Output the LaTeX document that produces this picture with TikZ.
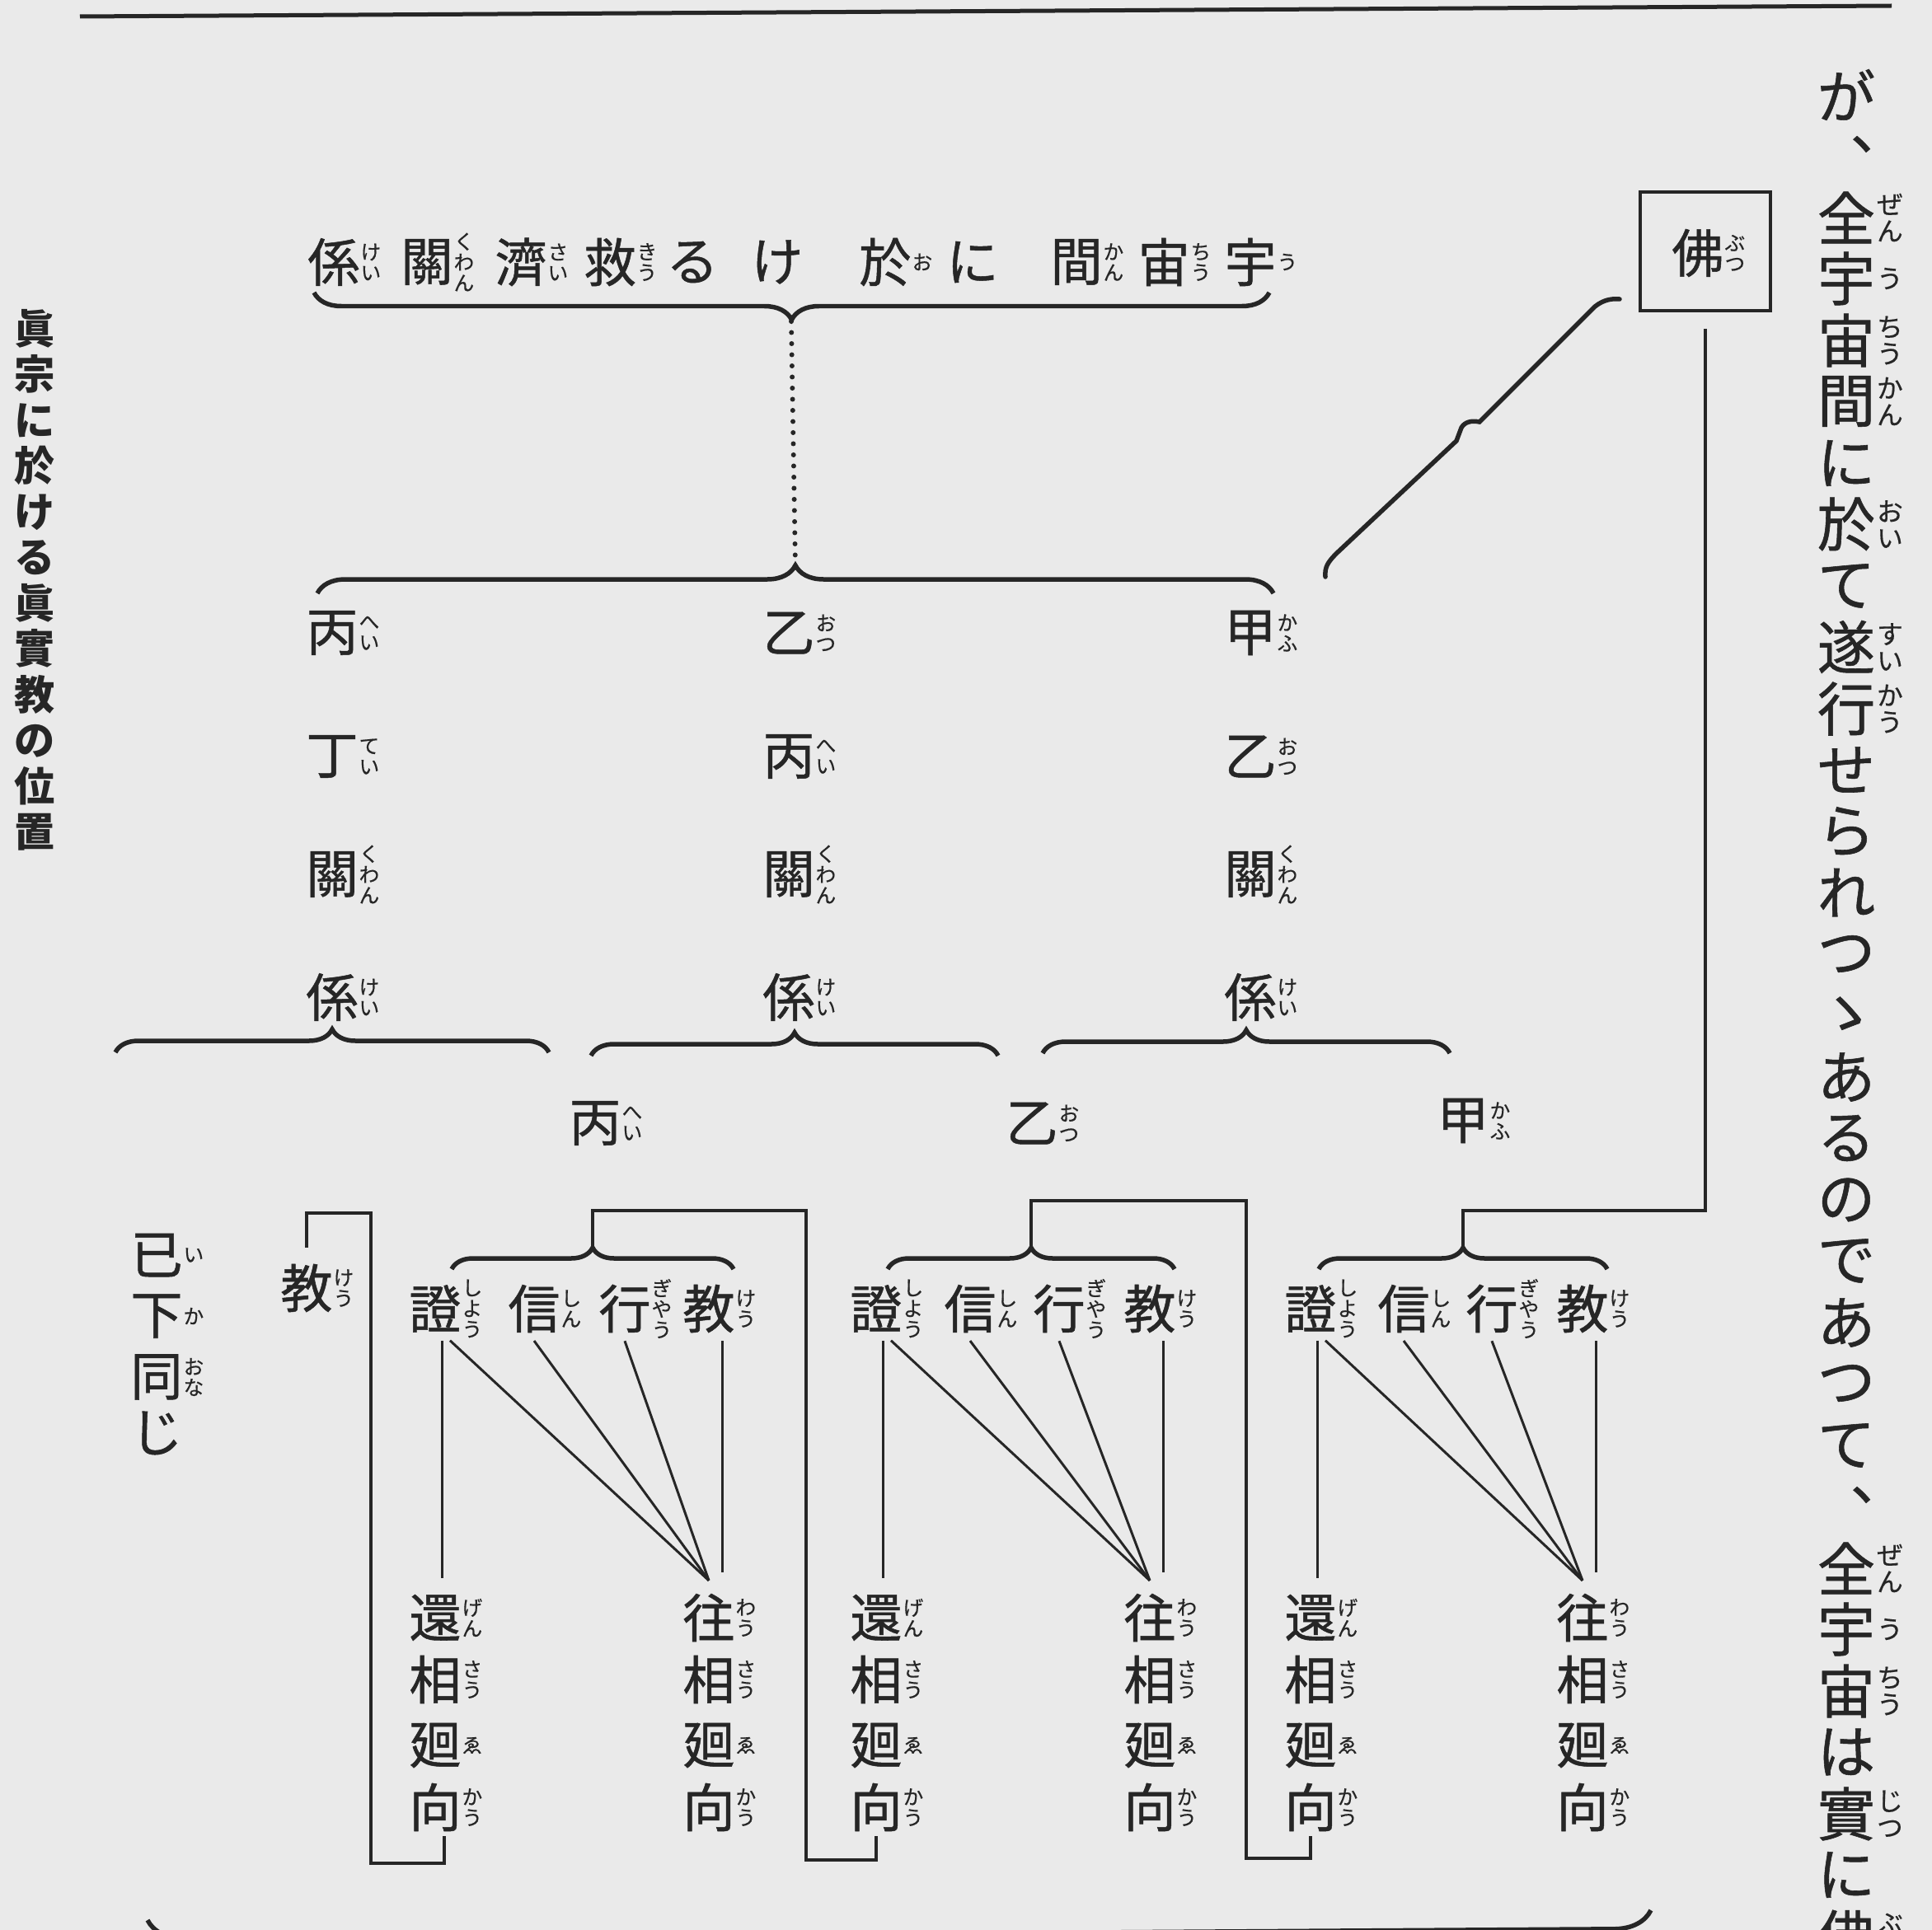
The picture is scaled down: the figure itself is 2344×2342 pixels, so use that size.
\documentclass[tikz,border=0pt]{standalone}
\usepackage{fontspec}
\newfontfamily\cjk{Noto Sans CJK JP}[FakeBold=0.8]
\newfontfamily\cjkr{Noto Sans CJK JP}[FakeBold=0.5]
\newfontfamily\cjkc{Noto Sans CJK JP}
\usetikzlibrary{decorations.pathreplacing,calc}
\definecolor{paper}{RGB}{234,234,234}
\definecolor{ink}{RGB}{38,38,38}
\def\kstackA#1{\ifx\relax#1\else\hbox to 1em{\hss#1\hss}\expandafter\kstackA\fi}
\newcommand\vstk[2]{\vbox{\baselineskip=#1\lineskiplimit=-\maxdimen\lineskip=0pt\expandafter\kstackA#2\relax}}
\newcommand\kstack[1]{\vstk{1.02em}{#1}}
\newcommand\kjf{\cjk\fontsize{18pt}{18pt}\selectfont}
\newcommand\rbf{\cjkr\fontsize{7pt}{7pt}\selectfont}
\newcommand\bigf{\cjk\fontsize{20pt}{20pt}\selectfont}
\newcommand\rbbf{\cjkr\fontsize{9pt}{9pt}\selectfont}
\newcommand\capf{\cjkc\bfseries\fontsize{14pt}{14pt}\selectfont}
\begin{document}
\begin{tikzpicture}[x=0.1mm,y=-0.1mm,
  kj/.style={inner sep=0pt,outer sep=0pt,font=\kjf,text=ink},
  ruby/.style={label={[rlab]east:{\kstack{#1}}}},
  rlab/.style={inner sep=0pt,outer sep=0pt,font=\rbf,text=ink,label distance=0.1mm},
  bk/.style={inner sep=0pt,outer sep=0pt,font=\bigf,text=ink},
  bruby/.style={label={[brlab]east:{\kstack{#1}}}},
  brlab/.style={inner sep=0pt,outer sep=0pt,font=\rbbf,text=ink,label distance=0.2mm},
  brc/.style={draw=ink,line width=0.55mm,decorate,decoration={brace,amplitude=#1}},
  mbrc/.style={draw=ink,line width=0.55mm,decorate,decoration={brace,mirror,amplitude=#1}},
  brk/.style={draw=ink,line width=0.4mm},
  fine/.style={draw=ink,line width=0.3mm},
  dotl/.style={draw=ink,line width=0.6mm,line cap=round,dash pattern=on 0pt off 1.35mm},
]
\useasboundingbox (0,0) rectangle (2344,2342);
\clip (0,0) rectangle (2344,2342);
\fill[paper] (0,0) rectangle (2344,2342);

% top rule
\draw[draw=ink,line width=0.5mm] (97,20) -- (2295,7);

% left caption
\node[inner sep=0pt,font=\capf,text=ink] (cap) at (42,704) {\vstk{5.55mm}{眞宗に於ける眞實教の位置}};

% title row (right to left)
\node[kj,ruby=けい] (t1) at (405,318) {係};
\node[kj,ruby=くわん] (t2) at (518,318) {關};
\node[kj,ruby=さい] (t3) at (632,318) {濟};
\node[kj,ruby=きう] (t4) at (740,318) {救};
\node[kj] (t5) at (840,318) {る};
\node[kj] (t6) at (943,318) {け};
\node[kj,ruby=お] (t7) at (1074,318) {於};
\node[kj] (t8) at (1180,318) {に};
\node[kj,ruby=かん] (t9) at (1306,318) {間};
\node[kj,ruby=ちう] (t10) at (1412,318) {宙};
\node[kj,ruby=う] (t11) at (1517,318) {宇};

\draw[mbrc=3.3mm] (381,355) -- (1540,355);
\coordinate (b0tip) at (960,390);
\coordinate (b1tip) at (965,688);
\draw[dotl] (b0tip) -- (b1tip);
\draw[brc=3.4mm] (385,720) -- (1545,720);

% second level columns
\node[kj,ruby=へい] (la) at (403,768) {丙};
\node[kj,ruby=てい] (lb) at (403,918) {丁};
\node[kj,ruby=くわん] (lc) at (403,1061) {關};
\node[kj,ruby=けい] (ld) at (403,1210) {係};
\node[kj,ruby=おつ] (ma) at (957,768) {乙};
\node[kj,ruby=へい] (mb) at (957,918) {丙};
\node[kj,ruby=くわん] (mc) at (957,1061) {關};
\node[kj,ruby=けい] (md) at (957,1210) {係};
\node[kj,ruby=かふ] (ra) at (1517,768) {甲};
\node[kj,ruby=おつ] (rb) at (1517,918) {乙};
\node[kj,ruby=くわん] (rc) at (1517,1061) {關};
\node[kj,ruby=けい] (rd) at (1517,1210) {係};

\draw[brc=2.8mm] (140,1277) -- (666,1277);
\draw[brc=2.8mm] (717,1281) -- (1211,1281);
\draw[brc=2.8mm] (1265,1278) -- (1759,1278);

\node[kj,ruby=へい] (p3) at (722,1363) {丙};
\node[kj,ruby=おつ] (p2) at (1252,1363) {乙};
\node[kj,ruby=かふ] (p1) at (1775,1360) {甲};

% Buddha box
\node[draw=ink,line width=0.4mm,minimum width=15.8mm,minimum height=14.4mm,inner sep=0pt] (fo) at (2069,305) {};
\node[kj,ruby=ぶつ] (fot) at (2060,307) {佛};
\coordinate (lk0) at (1608,700);
\draw[draw=ink,line width=0.55mm,line cap=round] (lk0) .. controls (1607,688) and (1611,682) .. (1622,671) -- (1767,535) -- (1773,519) .. controls (1777,512) and (1785,510) .. (1795,512) -- (1935,372) .. controls (1945,364) and (1955,362) .. ([xshift=-2.3mm,yshift=1.6mm]fo.south west);

% left notes
\node[kj,ruby=い] (i1) at (190,1523) {已};
\node[kj,ruby=か] (i2) at (190,1597) {下};
\node[kj,ruby=おな] (i3) at (190,1671) {同};
\node[kj] (i4) at (190,1739) {じ};
\node[kj,ruby=けう] (kyo) at (372,1563) {教};

% three groups
\foreach \g/\sx/\nx/\yx/\jx/\ba/\bb in {1/528/648/758/860/548/890, 2/1063/1177/1285/1395/1077/1425, 3/1590/1703/1810/1920/1600/1950}{
  \node[kj,ruby=しよう] (sh\g) at (\sx,1588) {證};
  \node[kj,ruby=しん] (sn\g) at (\nx,1588) {信};
  \node[kj,ruby=ぎやう] (gy\g) at (\yx,1588) {行};
  \node[kj,ruby=けう] (ky\g) at (\jx,1588) {教};
  \node[kj,ruby=げん] (ga\g) at (\sx,1963) {還};
  \node[kj,ruby=さう] (gb\g) at (\sx,2038) {相};
  \node[kj,ruby=ゑ] (gc\g) at (\sx,2118) {廻};
  \node[kj,ruby=かう] (gd\g) at (\sx,2193) {向};
  \node[kj,ruby=わう] (oa\g) at (\jx,1963) {往};
  \node[kj,ruby=さう] (ob\g) at (\jx,2038) {相};
  \node[kj,ruby=ゑ] (oc\g) at (\jx,2118) {廻};
  \node[kj,ruby=かう] (od\g) at (\jx,2193) {向};
  \draw[fine] ([xshift=0.8mm,yshift=-1mm]sh\g.south) -- ([xshift=0.8mm,yshift=2mm]ga\g.north);
  \draw[fine] ([xshift=1.8mm,yshift=-1mm]sh\g.south) -- ([yshift=1.6mm]oa\g.north);
  \draw[fine] ([yshift=-1mm]sn\g.south) -- ([yshift=1.6mm]oa\g.north);
  \draw[fine] ([yshift=-1mm]gy\g.south) -- ([yshift=1.6mm]oa\g.north);
  \draw[fine] ([xshift=1.6mm,yshift=-1mm]ky\g.south) -- ([xshift=1.6mm,yshift=2.6mm]oa\g.north);
  \draw[brc=2.6mm] (\ba,1540) -- (\bb,1540);
  \coordinate (gt\g) at ({(\ba+\bb)/2},1514);
}

% connecting brackets
\draw[brk] ([yshift=2mm]kyo.north) |- (450,1472) -- (450,2261) -| ([xshift=1.1mm,yshift=-0.6mm]gd1.south);
\draw[brk] (gt1) |- (978,1469) -- (978,2257) -| ([yshift=-0.6mm]gd2.south);
\draw[brk] (gt2) |- (1512,1457) -- (1512,2255) -| ([yshift=-0.6mm]gd3.south);
\draw[brk] ([yshift=-2mm]fo.south) -- ++(0,1070) -| (gt3);

% bottom brace (cut off)
\draw[mbrc=4.5mm] (179,2330) -- (2003,2318);

% right text column
\node[bk] (c1) at (2240,115) {が};
\node[bk] (c2) at (2280,175) {、};
\node[bk,bruby=ぜん] (c3) at (2240,264) {全};
\node[bk,bruby=う] (c4) at (2240,338) {宇};
\node[bk,bruby=ちう] (c5) at (2240,413) {宙};
\node[bk,bruby=かん] (c6) at (2240,487) {間};
\node[bk] (c7) at (2240,562) {に};
\node[bk,bruby=おい] (c8) at (2240,636) {於};
\node[bk] (c9) at (2240,711) {て};
\node[bk,bruby=すい] (c10) at (2240,785) {遂};
\node[bk,bruby=かう] (c11) at (2240,860) {行};
\node[bk] (c12) at (2240,934) {せ};
\node[bk] (c13) at (2240,1009) {ら};
\node[bk] (c14) at (2240,1083) {れ};
\node[bk] (c15) at (2240,1158) {つ};
\node[bk] (c16) at (2240,1232) {ゝ};
\node[bk] (c17) at (2240,1307) {あ};
\node[bk] (c18) at (2240,1381) {る};
\node[bk] (c19) at (2240,1456) {の};
\node[bk] (c20) at (2240,1530) {で};
\node[bk] (c21) at (2240,1605) {あ};
\node[bk] (c22) at (2240,1679) {つ};
\node[bk] (c23) at (2240,1754) {て};
\node[bk] (c24) at (2280,1814) {、};
\node[bk,bruby=ぜん] (c25) at (2240,1903) {全};
\node[bk,bruby=う] (c26) at (2240,1977) {宇};
\node[bk,bruby=ちう] (c27) at (2240,2052) {宙};
\node[bk] (c28) at (2240,2126) {は};
\node[bk,bruby=じつ] (c29) at (2240,2201) {實};
\node[bk] (c30) at (2240,2275) {に};
\node[bk,bruby=ぶつ] (c31) at (2240,2350) {佛};
\end{tikzpicture}
\end{document}
